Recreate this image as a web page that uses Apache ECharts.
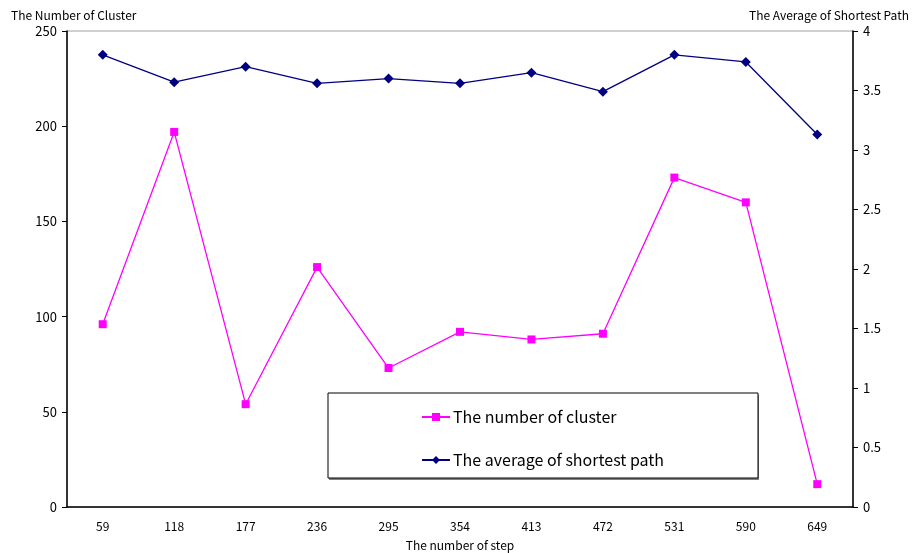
<!DOCTYPE html>
<html>
<head>
<meta charset="utf-8">
<script src="https://cdn.jsdelivr.net/npm/echarts@6/dist/echarts.min.js"></script>
<style>html,body{margin:0;padding:0;background:#fff}#c{width:912px;height:553px}</style>
</head>
<body>
<div id="c"></div>
<script>
const steps = ['59','118','177','236','295','354','413','472','531','590','649'];
const clusterCount = [96, 197, 54, 126, 73, 92, 88, 91, 173, 160, 12];
const avgShortestPath = [3.80, 3.57, 3.70, 3.56, 3.60, 3.56, 3.65, 3.49, 3.80, 3.74, 3.13];
const leftTicks = [0, 250, 50];
const rightTicks = [0, 4, 0.5];

const FONT = '"Noto Sans CJK JP", "DejaVu Sans", sans-serif';
const chart = echarts.init(document.getElementById('c'));
chart.setOption({
  animation: false,
  textStyle: {fontFamily: FONT},
  grid: {left: 67, right: 59, top: 31, bottom: 46, show: true, borderColor: '#a0a0a0', borderWidth: 1,
         containLabel: false, outerBoundsMode: 'none'},
  graphic: [
    {type: 'rect', shape: {x: 329, y: 395, width: 430, height: 85}, style: {fill: '#808080'}, z: 9},
    {type: 'rect', shape: {x: 328, y: 393, width: 430, height: 85}, style: {fill: '#fff', stroke: '#000', lineWidth: 1}, z: 10},
    {type: 'text', left: 11, top: 9, style: {text: 'The Number of Cluster', fontSize: 12, fill: '#000', fontFamily: FONT}, z: 10},
    {type: 'text', right: 3, top: 9, style: {text: 'The Average of Shortest Path', fontSize: 12, fill: '#000', fontFamily: FONT}, z: 10}
  ],
  legend: {
    orient: 'vertical', left: 416, top: 404, itemGap: 27, itemWidth: 28, itemHeight: 10,
    textStyle: {fontSize: 16, color: '#000', fontFamily: FONT, padding: [0, 0, 0, -2]}, z: 11,
    data: ['The number of cluster', 'The average of shortest path']
  },
  xAxis: {
    type: 'category', data: steps, boundaryGap: true,
    name: 'The number of step', nameLocation: 'middle', nameGap: 32,
    nameTextStyle: {fontSize: 12, color: '#000'},
    axisLine: {lineStyle: {color: '#000', width: 1.5}},
    axisTick: {inside: true, length: 5, lineStyle: {color: '#000'}},
    axisLabel: {fontSize: 12, color: '#000', margin: 13}
  },
  yAxis: [
    {
      type: 'value', min: leftTicks[0], max: leftTicks[1], interval: leftTicks[2],
      axisLine: {show: true, lineStyle: {color: '#000', width: 1.5}},
      axisTick: {show: true, length: 5, lineStyle: {color: '#000'}},
      axisLabel: {fontSize: 13, color: '#000', margin: 10},
      splitLine: {show: false}
    },
    {
      type: 'value', min: rightTicks[0], max: rightTicks[1], interval: rightTicks[2],
      position: 'right',
      axisLine: {show: true, lineStyle: {color: '#000', width: 1.5}},
      axisTick: {show: true, length: 5, lineStyle: {color: '#000'}},
      axisLabel: {fontSize: 13, color: '#000', margin: 10},
      splitLine: {show: false}
    }
  ],
  series: [
    {
      name: 'The number of cluster', type: 'line', yAxisIndex: 0, data: clusterCount,
      symbol: 'rect', symbolSize: 8,
      lineStyle: {color: '#ff00ff', width: 1.3}, itemStyle: {color: '#ff00ff'}
    },
    {
      name: 'The average of shortest path', type: 'line', yAxisIndex: 1, data: avgShortestPath,
      symbol: 'diamond', symbolSize: 10,
      lineStyle: {color: '#000080', width: 1.3}, itemStyle: {color: '#000080'}
    }
  ]
});
</script>
</body>
</html>
